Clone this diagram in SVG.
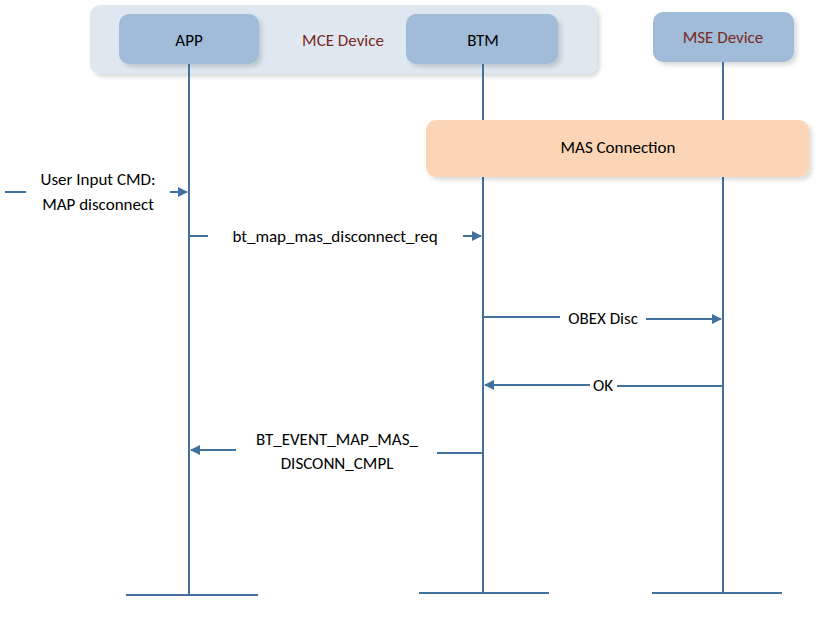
<svg xmlns="http://www.w3.org/2000/svg" width="829" height="626" viewBox="0 0 829 626">
<defs>
<marker id="ah" markerWidth="10" markerHeight="10" refX="9" refY="5" orient="auto" markerUnits="userSpaceOnUse"><path d="M0,0 L10,5 L0,10 z" fill="#41719c"/></marker>
<filter id="sh" x="-10%" y="-10%" width="130%" height="140%"><feDropShadow dx="3" dy="3" stdDeviation="2" flood-color="#000" flood-opacity="0.15"/></filter>
</defs>
<style>
text{font-family:Calibri,Carlito,"Liberation Sans",sans-serif;font-size:17px;fill:#000}
.box{fill:#a0bcd8;filter:url(#sh)}
.ln{stroke:#41719c;stroke-width:2;fill:none}
.dev{fill:#7a2a22}
</style>
<rect x="90" y="5" width="507" height="69" rx="10" fill="#dfe8f1" filter="url(#sh)"/>
<text x="343" y="46" text-anchor="middle" class="dev">MCE Device</text>
<g id="app"><rect class="box" x="119" y="14" width="140" height="50" rx="10"/><text x="189" y="46" text-anchor="middle">APP</text></g>
<g id="btm"><rect class="box" x="406" y="14" width="152" height="50" rx="10"/><text x="483" y="46" text-anchor="middle">BTM</text></g>
<g id="mse"><rect class="box" x="653" y="12" width="141" height="50" rx="10"/><text x="723" y="43" text-anchor="middle" class="dev">MSE Device</text></g>
<g id="connectors">
<path class="ln" d="M189 64V595M483 64V593M723 62V593M126 595H258M419 593H549M652 593H782"/>
<path class="ln" d="M5 192H26M170 192H187" marker-end="url(#ah)"/>
<path class="ln" d="M189 236H208M463 236H481" marker-end="url(#ah)"/>
<path class="ln" d="M483 317H560M646 319H721" marker-end="url(#ah)"/>
<path class="ln" d="M723 386H617M590 385H485" marker-end="url(#ah)"/>
<path class="ln" d="M483 453H437M236 450H191" marker-end="url(#ah)"/>
</g>
<g id="mas"><rect x="426" y="120" width="383" height="57" rx="10" fill="#fbd5b5" filter="url(#sh)"/><text x="618" y="153" text-anchor="middle">MAS Connection</text></g>
<text x="98" y="185" text-anchor="middle">User Input CMD:</text>
<text x="98" y="210" text-anchor="middle">MAP disconnect</text>
<text x="335" y="242" text-anchor="middle">bt_map_mas_disconnect_req</text>
<text x="603" y="324" text-anchor="middle">OBEX Disc</text>
<text x="603" y="391" text-anchor="middle">OK</text>
<text x="337" y="445" text-anchor="middle">BT_EVENT_MAP_MAS_</text>
<text x="337" y="469" text-anchor="middle">DISCONN_CMPL</text>
</svg>
